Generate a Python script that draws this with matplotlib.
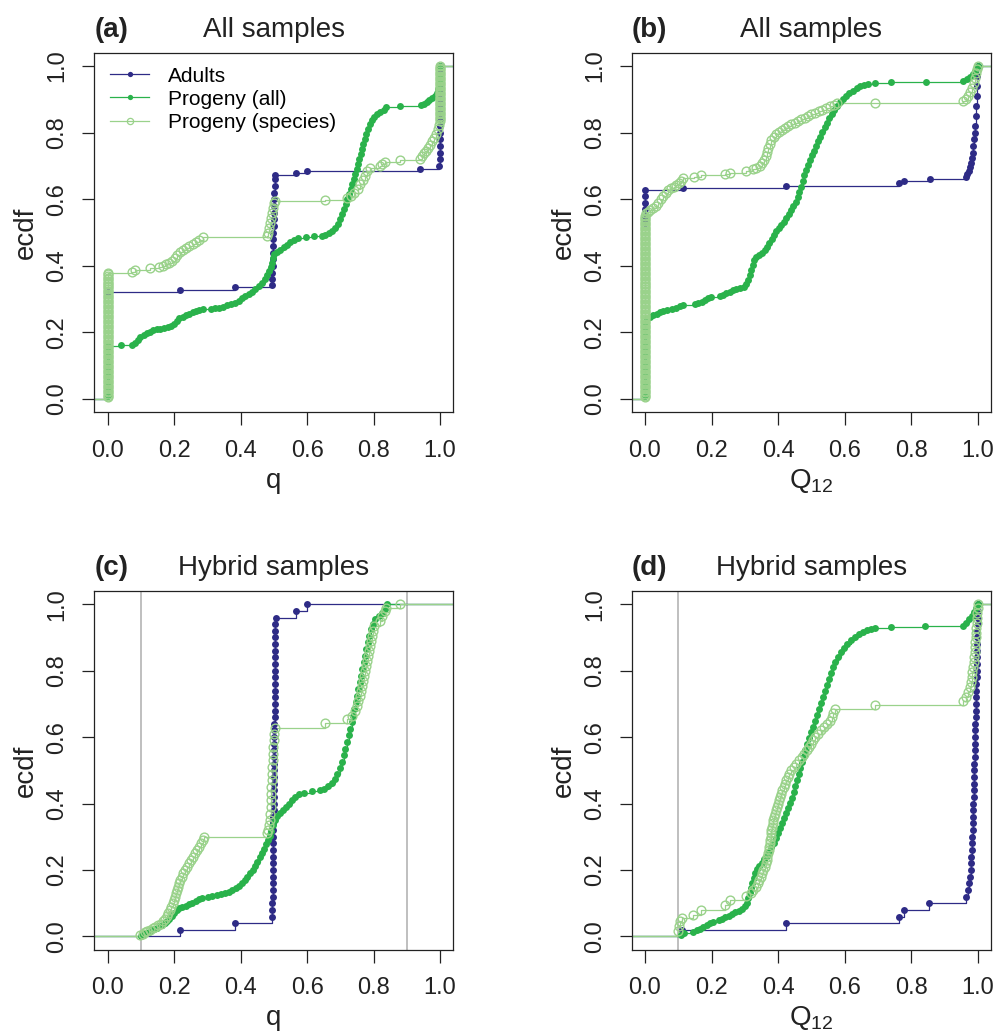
import matplotlib
matplotlib.use("Agg")
import matplotlib.pyplot as plt
from matplotlib.lines import Line2D
from matplotlib.ticker import FormatStrFormatter

plt.rcParams["font.family"] = ["Liberation Sans", "DejaVu Sans"]
plt.rcParams["mathtext.default"] = "regular"

NAVY = "#2e2b86"
GREEN = "#2ab24b"
LIGHT = "#9ad28b"
GRAY = "#b4b4b4"

# ---- panel (a): q, all samples -------------------------------------------
a_adults = [
    (0.0, 0.32),
    (0.218, 0.327), (0.383, 0.335),
    (0.494, 0.343), (0.495, 0.36), (0.496, 0.38), (0.497, 0.40), (0.497, 0.42),
    (0.498, 0.44), (0.498, 0.46), (0.499, 0.48), (0.499, 0.50), (0.500, 0.52),
    (0.500, 0.54), (0.501, 0.56), (0.501, 0.58), (0.502, 0.60), (0.502, 0.62),
    (0.503, 0.64), (0.503, 0.66), (0.504, 0.672),
    (0.567, 0.678), (0.601, 0.686), (0.941, 0.692),
    (0.998, 0.70), (0.999, 0.72), (0.999, 0.74), (0.999, 0.76), (1.0, 0.78),
    (1.0, 0.80), (1.0, 0.82), (1.0, 0.84), (1.0, 0.86), (1.0, 0.88), (1.0, 0.90),
    (1.0, 0.92), (1.0, 0.94), (1.0, 0.96), (1.0, 0.98), (1.0, 1.0),
]
a_all = [
    (0.0, 0.01), (0.0, 0.03), (0.0, 0.05), (0.0, 0.07), (0.0, 0.09), (0.0, 0.11),
    (0.0, 0.13), (0.0, 0.15), (0.001, 0.16),
    (0.041, 0.161), (0.073, 0.163), (0.082, 0.168), (0.090, 0.178), (0.098, 0.186),
    (0.108, 0.192), (0.118, 0.197), (0.128, 0.202), (0.138, 0.206), (0.148, 0.209),
    (0.158, 0.211), (0.170, 0.213), (0.182, 0.215), (0.192, 0.219), (0.200, 0.226),
    (0.208, 0.234), (0.216, 0.242), (0.226, 0.247), (0.236, 0.251), (0.246, 0.255),
    (0.256, 0.260), (0.266, 0.264), (0.276, 0.267), (0.286, 0.269), (0.310, 0.270),
    (0.322, 0.272), (0.334, 0.274), (0.346, 0.277), (0.358, 0.281), (0.370, 0.285),
    (0.382, 0.289), (0.394, 0.295), (0.404, 0.302), (0.414, 0.309), (0.424, 0.315),
    (0.434, 0.322), (0.444, 0.331), (0.454, 0.340), (0.464, 0.350), (0.472, 0.360),
    (0.480, 0.372), (0.486, 0.385), (0.491, 0.398), (0.495, 0.410), (0.498, 0.425),
    (0.502, 0.437), (0.510, 0.443), (0.520, 0.449), (0.530, 0.457), (0.540, 0.464),
    (0.550, 0.472), (0.560, 0.479), (0.572, 0.485), (0.598, 0.487), (0.620, 0.489),
    (0.645, 0.491), (0.655, 0.494), (0.665, 0.499), (0.675, 0.506), (0.684, 0.515),
    (0.692, 0.527), (0.699, 0.540), (0.705, 0.555), (0.711, 0.570), (0.716, 0.585),
    (0.721, 0.600), (0.726, 0.615), (0.731, 0.630), (0.736, 0.645), (0.740, 0.660),
    (0.745, 0.675), (0.749, 0.690), (0.753, 0.705), (0.757, 0.720), (0.761, 0.735),
    (0.765, 0.750), (0.769, 0.765), (0.773, 0.780), (0.778, 0.795), (0.783, 0.810),
    (0.789, 0.825), (0.795, 0.838), (0.802, 0.848), (0.810, 0.855), (0.820, 0.862),
    (0.830, 0.869), (0.838, 0.876), (0.879, 0.879), (0.944, 0.883), (0.952, 0.887),
    (0.960, 0.892), (0.968, 0.897), (0.976, 0.903), (0.984, 0.910), (0.990, 0.918),
    (0.995, 0.930), (1.0, 0.95), (1.0, 0.97), (1.0, 1.0),
]
a_species = [
    (0.0, 0.005), (0.0, 0.010), (0.0, 0.015), (0.0, 0.020), (0.0, 0.025), (0.0, 0.030),
    (0.0, 0.035), (0.0, 0.040), (0.0, 0.045), (0.0, 0.050), (0.0, 0.055), (0.0, 0.060),
    (0.0, 0.065), (0.0, 0.070), (0.0, 0.075), (0.0, 0.080), (0.0, 0.085), (0.0, 0.090),
    (0.0, 0.095), (0.0, 0.100), (0.0, 0.105), (0.0, 0.110), (0.0, 0.115), (0.0, 0.120),
    (0.0, 0.125), (0.0, 0.130), (0.0, 0.135), (0.0, 0.140), (0.0, 0.145), (0.0, 0.150),
    (0.0, 0.155), (0.0, 0.160), (0.0, 0.165), (0.0, 0.170), (0.0, 0.175), (0.0, 0.180),
    (0.0, 0.185), (0.0, 0.190), (0.0, 0.195), (0.0, 0.200), (0.0, 0.205), (0.0, 0.210),
    (0.0, 0.215), (0.0, 0.220), (0.0, 0.225), (0.0, 0.230), (0.0, 0.235), (0.0, 0.240),
    (0.0, 0.245), (0.0, 0.250), (0.0, 0.255), (0.0, 0.260), (0.0, 0.265), (0.0, 0.270),
    (0.0, 0.275), (0.0, 0.280), (0.0, 0.285), (0.0, 0.290), (0.0, 0.295), (0.0, 0.300),
    (0.0, 0.305), (0.0, 0.310), (0.0, 0.315), (0.0, 0.320), (0.0, 0.325), (0.0, 0.330),
    (0.0, 0.335), (0.0, 0.340), (0.0, 0.345), (0.0, 0.350), (0.0, 0.355), (0.0, 0.360),
    (0.0, 0.365), (0.001, 0.370), (0.001, 0.375), (0.002, 0.380),
    (0.073, 0.383), (0.083, 0.388), (0.128, 0.393), (0.156, 0.398), (0.166, 0.401),
    (0.176, 0.405), (0.186, 0.410), (0.195, 0.416), (0.203, 0.424), (0.210, 0.433),
    (0.217, 0.441), (0.226, 0.447), (0.236, 0.453), (0.246, 0.459), (0.256, 0.465),
    (0.266, 0.471), (0.276, 0.477), (0.286, 0.486),
    (0.478, 0.490), (0.482, 0.500), (0.485, 0.515), (0.488, 0.530), (0.491, 0.545),
    (0.494, 0.560), (0.497, 0.575), (0.500, 0.588), (0.503, 0.596),
    (0.654, 0.598), (0.719, 0.604), (0.732, 0.610), (0.742, 0.620), (0.752, 0.632),
    (0.760, 0.645), (0.767, 0.658), (0.774, 0.671), (0.781, 0.684), (0.789, 0.695),
    (0.819, 0.700), (0.826, 0.706), (0.834, 0.712), (0.879, 0.717), (0.941, 0.722),
    (0.947, 0.730), (0.953, 0.738), (0.959, 0.746), (0.965, 0.755), (0.971, 0.764),
    (0.977, 0.774), (0.983, 0.785), (0.988, 0.797), (0.993, 0.810), (0.997, 0.823),
    (1.0, 0.836), (1.0, 0.840), (1.0, 0.845), (1.0, 0.850), (1.0, 0.855), (1.0, 0.860),
    (1.0, 0.865), (1.0, 0.870), (1.0, 0.875), (1.0, 0.880), (1.0, 0.885), (1.0, 0.890),
    (1.0, 0.895), (1.0, 0.900), (1.0, 0.905), (1.0, 0.910), (1.0, 0.915), (1.0, 0.920),
    (1.0, 0.925), (1.0, 0.930), (1.0, 0.935), (1.0, 0.940), (1.0, 0.945), (1.0, 0.950),
    (1.0, 0.955), (1.0, 0.960), (1.0, 0.965), (1.0, 0.970), (1.0, 0.975), (1.0, 0.980),
    (1.0, 0.985), (1.0, 0.990), (1.0, 0.995), (1.0, 1.0),
]

# ---- panel (b): Q12, all samples -----------------------------------------
b_adults = [
    (0.0, 0.53), (0.0, 0.55), (0.0, 0.57), (0.0, 0.59), (0.0, 0.61), (0.001, 0.628),
    (0.115, 0.633), (0.425, 0.641), (0.764, 0.648), (0.779, 0.655), (0.856, 0.662),
    (0.964, 0.668), (0.968, 0.675), (0.973, 0.685), (0.977, 0.697), (0.980, 0.710),
    (0.983, 0.725), (0.985, 0.740), (0.987, 0.760), (0.989, 0.780), (0.991, 0.800),
    (0.993, 0.820), (0.995, 0.850), (0.996, 0.880), (0.997, 0.910), (0.998, 0.940),
    (0.999, 0.970), (1.0, 1.0),
]
b_all = [
    (0.0, 0.01), (0.0, 0.03), (0.0, 0.05), (0.0, 0.07), (0.0, 0.09), (0.0, 0.11),
    (0.0, 0.13), (0.0, 0.15), (0.0, 0.17), (0.0, 0.19), (0.0, 0.21), (0.0, 0.23),
    (0.005, 0.242), (0.015, 0.246), (0.025, 0.251), (0.035, 0.256), (0.045, 0.261),
    (0.055, 0.265), (0.067, 0.268), (0.080, 0.271), (0.092, 0.274), (0.104, 0.278),
    (0.113, 0.283), (0.150, 0.285), (0.160, 0.288), (0.170, 0.292), (0.180, 0.297),
    (0.190, 0.302), (0.198, 0.306), (0.225, 0.309), (0.235, 0.313), (0.245, 0.317),
    (0.255, 0.321), (0.265, 0.326), (0.275, 0.330), (0.287, 0.333), (0.297, 0.337),
    (0.305, 0.345), (0.311, 0.358), (0.316, 0.372), (0.320, 0.388), (0.324, 0.404),
    (0.329, 0.418), (0.335, 0.428), (0.343, 0.434), (0.352, 0.439), (0.360, 0.447),
    (0.367, 0.458), (0.374, 0.470), (0.381, 0.482), (0.388, 0.494), (0.395, 0.505),
    (0.402, 0.515), (0.410, 0.524), (0.418, 0.533), (0.425, 0.543), (0.432, 0.555),
    (0.439, 0.567), (0.446, 0.580), (0.453, 0.593), (0.459, 0.607), (0.464, 0.622),
    (0.469, 0.638), (0.474, 0.655), (0.479, 0.672), (0.484, 0.688), (0.490, 0.703),
    (0.496, 0.718), (0.502, 0.732), (0.508, 0.746), (0.514, 0.760), (0.521, 0.774),
    (0.527, 0.788), (0.533, 0.802), (0.540, 0.816), (0.547, 0.830), (0.554, 0.844),
    (0.561, 0.857), (0.568, 0.869), (0.576, 0.880), (0.585, 0.891), (0.594, 0.900),
    (0.604, 0.909), (0.614, 0.918), (0.625, 0.926), (0.636, 0.933), (0.647, 0.939),
    (0.658, 0.944), (0.670, 0.947), (0.690, 0.949), (0.740, 0.952), (0.844, 0.953),
    (0.956, 0.955), (0.968, 0.960), (0.978, 0.967), (0.986, 0.976), (0.993, 0.986),
    (1.0, 1.0),
]
b_species = [
    (0.0, 0.005), (0.0, 0.010), (0.0, 0.015), (0.0, 0.020), (0.0, 0.025), (0.0, 0.030),
    (0.0, 0.035), (0.0, 0.040), (0.0, 0.045), (0.0, 0.050), (0.0, 0.055), (0.0, 0.060),
    (0.0, 0.065), (0.0, 0.070), (0.0, 0.075), (0.0, 0.080), (0.0, 0.085), (0.0, 0.090),
    (0.0, 0.095), (0.0, 0.100), (0.0, 0.105), (0.0, 0.110), (0.0, 0.115), (0.0, 0.120),
    (0.0, 0.125), (0.0, 0.130), (0.0, 0.135), (0.0, 0.140), (0.0, 0.145), (0.0, 0.150),
    (0.0, 0.155), (0.0, 0.160), (0.0, 0.165), (0.0, 0.170), (0.0, 0.175), (0.0, 0.180),
    (0.0, 0.185), (0.0, 0.190), (0.0, 0.195), (0.0, 0.200), (0.0, 0.205), (0.0, 0.210),
    (0.0, 0.215), (0.0, 0.220), (0.0, 0.225), (0.0, 0.230), (0.0, 0.235), (0.0, 0.240),
    (0.0, 0.245), (0.0, 0.250), (0.0, 0.255), (0.0, 0.260), (0.0, 0.265), (0.0, 0.270),
    (0.0, 0.275), (0.0, 0.280), (0.0, 0.285), (0.0, 0.290), (0.0, 0.295), (0.0, 0.300),
    (0.0, 0.305), (0.0, 0.310), (0.0, 0.315), (0.0, 0.320), (0.0, 0.325), (0.0, 0.330),
    (0.0, 0.335), (0.0, 0.340), (0.0, 0.345), (0.0, 0.350), (0.0, 0.355), (0.0, 0.360),
    (0.0, 0.365), (0.0, 0.370), (0.0, 0.375), (0.0, 0.380), (0.0, 0.385), (0.0, 0.390),
    (0.0, 0.395), (0.0, 0.400), (0.0, 0.405), (0.0, 0.410), (0.0, 0.415), (0.0, 0.420),
    (0.0, 0.425), (0.0, 0.430), (0.0, 0.435), (0.0, 0.440), (0.0, 0.445), (0.0, 0.450),
    (0.0, 0.455), (0.0, 0.460), (0.0, 0.465), (0.0, 0.470), (0.0, 0.475), (0.0, 0.480),
    (0.0, 0.485), (0.0, 0.490), (0.0, 0.495), (0.0, 0.500), (0.0, 0.505), (0.0, 0.510),
    (0.0, 0.515), (0.0, 0.520), (0.0, 0.525), (0.0, 0.530), (0.0, 0.535), (0.0, 0.540),
    (0.001, 0.545), (0.001, 0.550), (0.002, 0.558),
    (0.008, 0.563), (0.016, 0.568), (0.024, 0.574), (0.032, 0.581), (0.040, 0.590),
    (0.047, 0.600), (0.054, 0.610), (0.062, 0.619), (0.070, 0.627), (0.078, 0.633),
    (0.086, 0.638), (0.094, 0.643), (0.102, 0.649), (0.108, 0.656), (0.113, 0.664),
    (0.147, 0.668), (0.168, 0.672), (0.240, 0.677), (0.257, 0.680), (0.305, 0.685),
    (0.325, 0.690), (0.335, 0.695), (0.345, 0.700), (0.352, 0.708), (0.358, 0.718),
    (0.363, 0.730), (0.367, 0.742), (0.371, 0.755), (0.375, 0.767), (0.380, 0.778),
    (0.387, 0.787), (0.395, 0.795), (0.404, 0.802), (0.413, 0.809), (0.422, 0.815),
    (0.431, 0.820), (0.440, 0.825), (0.450, 0.830), (0.460, 0.835), (0.470, 0.840),
    (0.480, 0.845), (0.490, 0.850), (0.500, 0.855), (0.511, 0.860), (0.522, 0.865),
    (0.533, 0.869), (0.545, 0.874), (0.557, 0.879), (0.568, 0.884), (0.578, 0.888),
    (0.692, 0.890), (0.956, 0.895), (0.964, 0.900), (0.972, 0.910), (0.978, 0.922),
    (0.983, 0.935), (0.988, 0.950), (0.992, 0.965), (0.996, 0.980), (0.999, 0.990),
    (1.0, 1.0),
]

# ---- panel (c): q, hybrid samples ----------------------------------------
c_adults = [
    (0.218, 0.02), (0.383, 0.04), (0.495, 0.06),
    (0.496, 0.08), (0.496, 0.10), (0.497, 0.12), (0.497, 0.14), (0.497, 0.16),
    (0.497, 0.18), (0.498, 0.20), (0.498, 0.22), (0.498, 0.24), (0.498, 0.26),
    (0.498, 0.28), (0.499, 0.30), (0.499, 0.32), (0.499, 0.34), (0.499, 0.36),
    (0.500, 0.38), (0.500, 0.40), (0.500, 0.42), (0.500, 0.44), (0.500, 0.46),
    (0.501, 0.48), (0.501, 0.50), (0.501, 0.52), (0.501, 0.54), (0.502, 0.56),
    (0.502, 0.58), (0.502, 0.60), (0.502, 0.62), (0.502, 0.64), (0.503, 0.66),
    (0.503, 0.68), (0.503, 0.70), (0.503, 0.72), (0.503, 0.74), (0.504, 0.76),
    (0.504, 0.78), (0.504, 0.80), (0.504, 0.82), (0.504, 0.84), (0.505, 0.86),
    (0.505, 0.88), (0.505, 0.90), (0.505, 0.92), (0.505, 0.94), (0.506, 0.96),
    (0.567, 0.98), (0.601, 1.0),
]
c_all = [
    (0.100, 0.002), (0.108, 0.006), (0.116, 0.010), (0.124, 0.014), (0.132, 0.018),
    (0.140, 0.022), (0.148, 0.026), (0.156, 0.030), (0.164, 0.034), (0.172, 0.039),
    (0.179, 0.045), (0.186, 0.053), (0.193, 0.062), (0.200, 0.071), (0.208, 0.079),
    (0.216, 0.085), (0.225, 0.089), (0.235, 0.093), (0.245, 0.097), (0.255, 0.102),
    (0.265, 0.107), (0.275, 0.112), (0.285, 0.116), (0.302, 0.119), (0.315, 0.121),
    (0.328, 0.124), (0.340, 0.127), (0.352, 0.131), (0.364, 0.135), (0.375, 0.140),
    (0.385, 0.146), (0.394, 0.153), (0.403, 0.161), (0.412, 0.170), (0.420, 0.180),
    (0.428, 0.190), (0.436, 0.201), (0.443, 0.213), (0.450, 0.225), (0.457, 0.238),
    (0.463, 0.251), (0.469, 0.264), (0.475, 0.277), (0.481, 0.290), (0.487, 0.303),
    (0.493, 0.318), (0.498, 0.334), (0.503, 0.350), (0.510, 0.363), (0.518, 0.372),
    (0.527, 0.381), (0.536, 0.390), (0.545, 0.400), (0.555, 0.410), (0.565, 0.420),
    (0.575, 0.428), (0.590, 0.433), (0.615, 0.437), (0.640, 0.440), (0.652, 0.445),
    (0.664, 0.452), (0.674, 0.462), (0.683, 0.475), (0.691, 0.490), (0.698, 0.507),
    (0.704, 0.525), (0.710, 0.545), (0.715, 0.565), (0.720, 0.585), (0.725, 0.605),
    (0.730, 0.625), (0.734, 0.645), (0.738, 0.665), (0.742, 0.685), (0.746, 0.705),
    (0.750, 0.725), (0.754, 0.745), (0.758, 0.765), (0.762, 0.785), (0.766, 0.805),
    (0.770, 0.825), (0.774, 0.845), (0.778, 0.865), (0.782, 0.885), (0.787, 0.905),
    (0.792, 0.925), (0.798, 0.942), (0.805, 0.955), (0.815, 0.965), (0.825, 0.975),
    (0.833, 0.985), (0.840, 1.0),
]
c_species = [
    (0.098, 0.004), (0.105, 0.008), (0.112, 0.012), (0.120, 0.016), (0.128, 0.020),
    (0.136, 0.024), (0.144, 0.028), (0.152, 0.033), (0.160, 0.038), (0.167, 0.045),
    (0.173, 0.053), (0.178, 0.062), (0.183, 0.071), (0.188, 0.080), (0.192, 0.090),
    (0.196, 0.100), (0.200, 0.110), (0.204, 0.120), (0.207, 0.130), (0.210, 0.140),
    (0.213, 0.150), (0.216, 0.160), (0.219, 0.170), (0.223, 0.180), (0.228, 0.190),
    (0.233, 0.200), (0.239, 0.210), (0.245, 0.220), (0.251, 0.230), (0.257, 0.240),
    (0.263, 0.250), (0.269, 0.260), (0.275, 0.270), (0.281, 0.280), (0.286, 0.290),
    (0.290, 0.300),
    (0.478, 0.310), (0.482, 0.320), (0.485, 0.335), (0.487, 0.350), (0.489, 0.370),
    (0.490, 0.390), (0.491, 0.410), (0.492, 0.430), (0.493, 0.450), (0.494, 0.470),
    (0.495, 0.490), (0.496, 0.510), (0.497, 0.530), (0.498, 0.550), (0.499, 0.570),
    (0.500, 0.590), (0.502, 0.610), (0.504, 0.626),
    (0.654, 0.642), (0.719, 0.655), (0.735, 0.665), (0.745, 0.680), (0.750, 0.695),
    (0.754, 0.710), (0.758, 0.725), (0.762, 0.740), (0.765, 0.755), (0.768, 0.770),
    (0.771, 0.785), (0.774, 0.800), (0.777, 0.815), (0.780, 0.830), (0.783, 0.845),
    (0.786, 0.860), (0.789, 0.875), (0.792, 0.890), (0.795, 0.905), (0.798, 0.920),
    (0.802, 0.935), (0.818, 0.950), (0.826, 0.965), (0.833, 0.980), (0.838, 0.990),
    (0.879, 1.0),
]

# ---- panel (d): Q12, hybrid samples --------------------------------------
d_adults = [
    (0.110, 0.02), (0.425, 0.04), (0.764, 0.06), (0.779, 0.08), (0.854, 0.10),
    (0.964, 0.12), (0.972, 0.14), (0.975, 0.16), (0.977, 0.18), (0.979, 0.20),
    (0.980, 0.22), (0.981, 0.24), (0.982, 0.26), (0.983, 0.28), (0.984, 0.30),
    (0.985, 0.32), (0.986, 0.34), (0.986, 0.36), (0.987, 0.38), (0.987, 0.40),
    (0.988, 0.42), (0.988, 0.44), (0.989, 0.46), (0.989, 0.48), (0.990, 0.50),
    (0.990, 0.52), (0.991, 0.54), (0.991, 0.56), (0.992, 0.58), (0.992, 0.60),
    (0.993, 0.62), (0.993, 0.64), (0.994, 0.66), (0.994, 0.68), (0.995, 0.70),
    (0.995, 0.72), (0.996, 0.74), (0.996, 0.76), (0.997, 0.78), (0.997, 0.80),
    (0.998, 0.82), (0.998, 0.84), (0.998, 0.86), (0.999, 0.88), (0.999, 0.90),
    (0.999, 0.92), (1.0, 0.94), (1.0, 0.96), (1.0, 0.98), (1.0, 1.0),
]
d_all = [
    (0.108, 0.005), (0.118, 0.010), (0.145, 0.014), (0.155, 0.018), (0.165, 0.022),
    (0.175, 0.027), (0.185, 0.033), (0.195, 0.040), (0.205, 0.044), (0.222, 0.048),
    (0.232, 0.053), (0.242, 0.058), (0.252, 0.063), (0.262, 0.068), (0.272, 0.073),
    (0.282, 0.078), (0.292, 0.084), (0.300, 0.092), (0.306, 0.102), (0.311, 0.115),
    (0.315, 0.130), (0.319, 0.145), (0.323, 0.160), (0.327, 0.175), (0.331, 0.190),
    (0.336, 0.203), (0.343, 0.213), (0.351, 0.222), (0.359, 0.232), (0.366, 0.243),
    (0.373, 0.255), (0.380, 0.268), (0.387, 0.282), (0.393, 0.297), (0.399, 0.312),
    (0.405, 0.327), (0.411, 0.342), (0.417, 0.357), (0.423, 0.372), (0.429, 0.387),
    (0.435, 0.402), (0.441, 0.418), (0.447, 0.435), (0.452, 0.452), (0.457, 0.470),
    (0.462, 0.488), (0.467, 0.506), (0.472, 0.524), (0.477, 0.542), (0.482, 0.560),
    (0.487, 0.578), (0.492, 0.596), (0.498, 0.614), (0.504, 0.632), (0.510, 0.650),
    (0.516, 0.668), (0.522, 0.686), (0.528, 0.704), (0.534, 0.722), (0.540, 0.740),
    (0.546, 0.758), (0.552, 0.776), (0.558, 0.793), (0.564, 0.810), (0.571, 0.826),
    (0.579, 0.841), (0.588, 0.855), (0.598, 0.868), (0.608, 0.880), (0.619, 0.891),
    (0.630, 0.901), (0.642, 0.910), (0.654, 0.917), (0.666, 0.923), (0.680, 0.927),
    (0.692, 0.930), (0.740, 0.932), (0.843, 0.934), (0.955, 0.936), (0.965, 0.945),
    (0.974, 0.955), (0.982, 0.966), (0.989, 0.977), (0.995, 0.988), (1.0, 1.0),
]
d_species = [
    (0.100, 0.015), (0.101, 0.030), (0.105, 0.045), (0.110, 0.055), (0.145, 0.065),
    (0.168, 0.080), (0.240, 0.095), (0.257, 0.110), (0.305, 0.122), (0.318, 0.130),
    (0.326, 0.140), (0.333, 0.150), (0.339, 0.160), (0.344, 0.170), (0.348, 0.180),
    (0.352, 0.190), (0.356, 0.200), (0.360, 0.210), (0.363, 0.220), (0.366, 0.230),
    (0.368, 0.240), (0.370, 0.250), (0.372, 0.260), (0.374, 0.270), (0.375, 0.280),
    (0.376, 0.290), (0.378, 0.300), (0.379, 0.310), (0.380, 0.320), (0.382, 0.330),
    (0.384, 0.340), (0.386, 0.350), (0.388, 0.360), (0.391, 0.370), (0.394, 0.380),
    (0.397, 0.390), (0.400, 0.400), (0.403, 0.410), (0.406, 0.420), (0.409, 0.430),
    (0.413, 0.440), (0.417, 0.450), (0.421, 0.460), (0.425, 0.470), (0.429, 0.480),
    (0.434, 0.490), (0.440, 0.500), (0.447, 0.510), (0.455, 0.520), (0.463, 0.530),
    (0.471, 0.540), (0.479, 0.550), (0.486, 0.560), (0.493, 0.570), (0.499, 0.580),
    (0.505, 0.590), (0.512, 0.600), (0.520, 0.610), (0.528, 0.620), (0.537, 0.630),
    (0.547, 0.640), (0.556, 0.650), (0.562, 0.660), (0.566, 0.672), (0.570, 0.684),
    (0.692, 0.697), (0.955, 0.710), (0.965, 0.720), (0.972, 0.735), (0.976, 0.750),
    (0.979, 0.765), (0.982, 0.780), (0.984, 0.795), (0.986, 0.810), (0.988, 0.825),
    (0.990, 0.840), (0.991, 0.855), (0.992, 0.870), (0.993, 0.885), (0.994, 0.900),
    (0.995, 0.915), (0.996, 0.930), (0.997, 0.945), (0.998, 0.960), (0.999, 0.975),
    (1.0, 0.990), (1.0, 1.0),
]

panels = [
    ("(a)", "All samples", "q", a_adults, a_all, a_species, []),
    ("(b)", "All samples", "Q$_{12}$", b_adults, b_all, b_species, []),
    ("(c)", "Hybrid samples", "q", c_adults, c_all, c_species, [0.1, 0.9]),
    ("(d)", "Hybrid samples", "Q$_{12}$", d_adults, d_all, d_species, [0.1]),
]

# axes rectangles in figure fractions (left, bottom, width, height)
rects = [
    (0.0944, 0.6016, 0.3594, 0.3474),
    (0.6323, 0.6016, 0.3597, 0.3474),
    (0.0944, 0.0824, 0.3594, 0.3466),
    (0.6323, 0.0824, 0.3597, 0.3466),
]


def draw_ecdf(ax, pts, color, open_marker=False):
    xs = [p[0] for p in pts]
    ys = [p[1] for p in pts]
    ax.step([-1.0] + xs + [2.0], [0.0] + ys + [ys[-1]], where="post",
            color=color, lw=0.9, zorder=2)
    if open_marker:
        ax.plot(xs, ys, "o", ms=6.3, mfc="none", mec=color, mew=1.0, zorder=3)
    else:
        ax.plot(xs, ys, "o", ms=5.0, mfc=color, mec=color, mew=0, zorder=3)


fig = plt.figure(figsize=(9.99, 10.35), dpi=100)

for i, (tag, title, xlab, adults, allp, species, vlines) in enumerate(panels):
    ax = fig.add_axes(rects[i])
    for v in vlines:
        ax.axvline(v, color=GRAY, lw=1.2, zorder=1)
    draw_ecdf(ax, adults, NAVY)
    draw_ecdf(ax, allp, GREEN)
    draw_ecdf(ax, species, LIGHT, open_marker=True)

    ax.set_xlim(-0.04, 1.04)
    ax.set_ylim(-0.04, 1.04)
    ticks = [0.0, 0.2, 0.4, 0.6, 0.8, 1.0]
    ax.set_xticks(ticks)
    ax.set_yticks(ticks)
    ax.xaxis.set_major_formatter(FormatStrFormatter("%.1f"))
    ax.yaxis.set_major_formatter(FormatStrFormatter("%.1f"))
    ax.tick_params(direction="out", length=9, width=0.9, labelsize=17,
                   colors="#222222")
    ax.tick_params(axis="x", pad=11)
    ax.tick_params(axis="y", pad=9.5)
    for lab in ax.get_yticklabels():
        lab.set_rotation(90)
        lab.set_va("center")
    for s in ax.spines.values():
        s.set_linewidth(0.9)
        s.set_color("#222222")

    ax.text(0.0, 1.063, tag, transform=ax.transAxes, ha="left", va="center",
            fontsize=20, fontweight="bold", color="#222222")
    ax.text(0.5, 1.063, title, transform=ax.transAxes, ha="center",
            va="center", fontsize=20, color="#222222")

    ax.set_xlabel(xlab, fontsize=20, color="#222222")
    ax.xaxis.label.set_va("baseline")
    ax.xaxis.set_label_coords(0.5, -0.21)
    ax.set_ylabel("ecdf", fontsize=20, color="#222222")
    ax.yaxis.label.set_va("center")
    ax.yaxis.set_label_coords(-0.19, 0.5)

    if i == 0:
        handles = [
            Line2D([], [], color=NAVY, lw=0.9, marker="o", ms=3.8, mew=0),
            Line2D([], [], color=GREEN, lw=0.9, marker="o", ms=3.8, mew=0),
            Line2D([], [], color=LIGHT, lw=0.9, marker="o", ms=4.5,
                   mfc="none", mec=LIGHT, mew=0.9),
        ]
        ax.legend(handles, ["Adults", "Progeny (all)", "Progeny (species)"],
                  loc="upper left", bbox_to_anchor=(0.02, 0.985),
                  frameon=False, fontsize=15, handlelength=1.9,
                  handletextpad=0.9, labelspacing=0.2, borderaxespad=0.0)

plt.savefig("out.png", dpi=100)
plt.close()
